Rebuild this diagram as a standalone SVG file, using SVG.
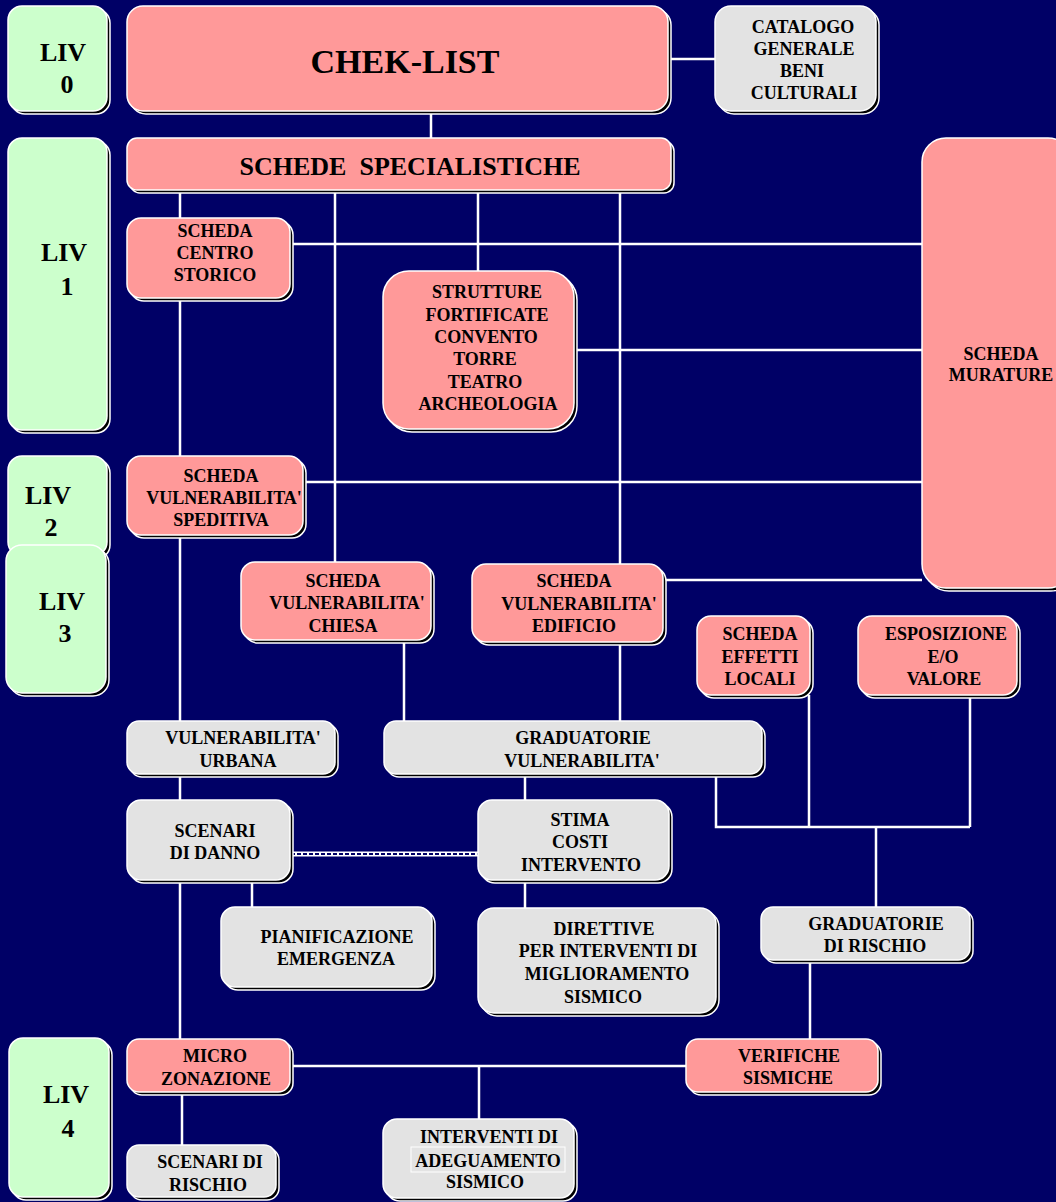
<svg xmlns="http://www.w3.org/2000/svg" width="1056" height="1202" viewBox="0 0 1056 1202">
<style>
.sh{fill:#000;stroke:#fff;stroke-width:1.5}
.pk{fill:#FF9999;stroke:#fff;stroke-width:1.5}
.gn{fill:#CCFFCC;stroke:#fff;stroke-width:1.5}
.gy{fill:#E3E3E3;stroke:#fff;stroke-width:1.5}
text{font-family:"Liberation Serif","Times New Roman",serif;font-weight:bold;font-size:18px;text-anchor:middle;fill:#000}
.lv{font-size:26px}
.ln{stroke:#fff;stroke-width:2.5;fill:none}
</style>
<rect x="0" y="0" width="1056" height="1202" fill="#000066"/>
<g id="connectors">
<path class="ln" d="M668 59H715 M431 111V138 M180 190V218 M180 298V456 M180 535V721 M335 190V562 M478 190V271 M620 190V564 M290 244H922 M574 350H922 M303 482H922 M663 580H922 M404 640V721 M620 642V721 M525 774V800 M716 774V827H970 M809 695V827 M970 695V827 M876 827V907 M180 774V800 M180 880V1039 M252 880V907 M525 880V908 M810 960V1039 M182 1092V1145 M290 1066H686 M479 1066V1119"/>
<line x1="291" y1="854" x2="478" y2="854" stroke="#fff" stroke-width="5"/>
<line x1="291" y1="854" x2="478" y2="854" stroke="#000066" stroke-width="2" stroke-dasharray="4 2"/>
</g>
<g id="liv0"><rect class="sh" x="11" y="9" width="99" height="105" rx="14"/><rect class="gn" x="8" y="6" width="99" height="105" rx="14"/><text class="lv" x="63" y="61">LIV</text><text class="lv" x="67" y="93">0</text></g>
<g id="checklist"><rect class="sh" x="130" y="9" width="541" height="105" rx="16"/><rect class="pk" x="127" y="6" width="541" height="105" rx="16"/><text x="405" y="73" style="font-size:34px">CHEK-LIST</text></g>
<g id="catalogo"><rect class="sh" x="718" y="9" width="161" height="105" rx="16"/><rect class="gy" x="715" y="6" width="161" height="105" rx="16"/><text x="803" y="33">CATALOGO</text><text x="804" y="55">GENERALE</text><text x="802" y="77">BENI</text><text x="804" y="99">CULTURALI</text></g>
<g id="liv1"><rect class="sh" x="11" y="141" width="99" height="292" rx="14"/><rect class="gn" x="8" y="138" width="99" height="292" rx="14"/><text class="lv" x="64" y="261">LIV</text><text class="lv" x="67" y="295">1</text></g>
<g id="schede"><rect class="sh" x="130" y="141" width="544" height="52" rx="10"/><rect class="pk" x="127" y="138" width="544" height="52" rx="10"/><text x="410" y="175" style="font-size:26px;white-space:pre">SCHEDE  SPECIALISTICHE</text></g>
<g id="centro"><rect class="sh" x="130" y="221" width="163" height="80" rx="14"/><rect class="pk" x="127" y="218" width="163" height="80" rx="14"/><text x="215" y="237">SCHEDA</text><text x="215" y="259">CENTRO</text><text x="215" y="281">STORICO</text></g>
<g id="strutture"><rect class="sh" x="386" y="274" width="191" height="158" rx="26"/><rect class="pk" x="383" y="271" width="191" height="158" rx="26"/><text x="487" y="298">STRUTTURE</text><text x="487" y="321">FORTIFICATE</text><text x="486" y="343">CONVENTO</text><text x="485" y="365">TORRE</text><text x="485" y="388">TEATRO</text><text x="488" y="410">ARCHEOLOGIA</text></g>
<g id="murature"><rect class="sh" x="925" y="141" width="150" height="450" rx="24"/><rect class="pk" x="922" y="138" width="150" height="450" rx="24"/><text x="1001" y="360">SCHEDA</text><text x="1001" y="381">MURATURE</text></g>
<g id="liv2"><rect class="sh" x="11" y="459" width="99" height="100" rx="14"/><rect class="gn" x="8" y="456" width="99" height="100" rx="14"/><text class="lv" x="48" y="504">LIV</text><text class="lv" x="51" y="536">2</text></g>
<g id="liv3"><rect class="sh" x="9" y="548" width="100" height="148" rx="16"/><rect class="gn" x="6" y="545" width="100" height="148" rx="16"/><text class="lv" x="62" y="610">LIV</text><text class="lv" x="65" y="642">3</text></g>
<g id="speditiva"><rect class="sh" x="130" y="459" width="176" height="79" rx="14"/><rect class="pk" x="127" y="456" width="176" height="79" rx="14"/><text x="221" y="482">SCHEDA</text><text x="224" y="504">VULNERABILITA'</text><text x="221" y="526">SPEDITIVA</text></g>
<g id="chiesa"><rect class="sh" x="244" y="565" width="190" height="78" rx="14"/><rect class="pk" x="241" y="562" width="190" height="78" rx="14"/><text x="343" y="587">SCHEDA</text><text x="347" y="609">VULNERABILITA'</text><text x="343" y="632">CHIESA</text></g>
<g id="edificio"><rect class="sh" x="475" y="567" width="191" height="78" rx="14"/><rect class="pk" x="472" y="564" width="191" height="78" rx="14"/><text x="574" y="587">SCHEDA</text><text x="579" y="610">VULNERABILITA'</text><text x="574" y="632">EDIFICIO</text></g>
<g id="effetti"><rect class="sh" x="700" y="619" width="113" height="79" rx="14"/><rect class="pk" x="697" y="616" width="113" height="79" rx="14"/><text x="760" y="640">SCHEDA</text><text x="760" y="663">EFFETTI</text><text x="760" y="685">LOCALI</text></g>
<g id="esposizione"><rect class="sh" x="861" y="619" width="159" height="79" rx="14"/><rect class="pk" x="858" y="616" width="159" height="79" rx="14"/><text x="946" y="640">ESPOSIZIONE</text><text x="943" y="663">E/O</text><text x="944" y="685">VALORE</text></g>
<g id="urbana"><rect class="sh" x="130" y="724" width="208" height="53" rx="12"/><rect class="gy" x="127" y="721" width="208" height="53" rx="12"/><text x="243" y="744">VULNERABILITA'</text><text x="238" y="767">URBANA</text></g>
<g id="gradvuln"><rect class="sh" x="387" y="724" width="378" height="53" rx="12"/><rect class="gy" x="384" y="721" width="378" height="53" rx="12"/><text x="583" y="744">GRADUATORIE</text><text x="582" y="767">VULNERABILITA'</text></g>
<g id="scenaridanno"><rect class="sh" x="130" y="803" width="163" height="80" rx="14"/><rect class="gy" x="127" y="800" width="163" height="80" rx="14"/><text x="215" y="837">SCENARI</text><text x="215" y="859">DI DANNO</text></g>
<g id="stima"><rect class="sh" x="481" y="803" width="191" height="80" rx="14"/><rect class="gy" x="478" y="800" width="191" height="80" rx="14"/><text x="580" y="826">STIMA</text><text x="580" y="848">COSTI</text><text x="581" y="871">INTERVENTO</text></g>
<g id="pianificazione"><rect class="sh" x="224" y="910" width="211" height="80" rx="14"/><rect class="gy" x="221" y="907" width="211" height="80" rx="14"/><text x="337" y="943">PIANIFICAZIONE</text><text x="336" y="965">EMERGENZA</text></g>
<g id="direttive"><rect class="sh" x="481" y="911" width="238" height="105" rx="16"/><rect class="gy" x="478" y="908" width="238" height="105" rx="16"/><text x="604" y="935">DIRETTIVE</text><text x="608" y="957">PER INTERVENTI DI</text><text x="607" y="980">MIGLIORAMENTO</text><text x="603" y="1003">SISMICO</text></g>
<g id="gradrischio"><rect class="sh" x="764" y="910" width="209" height="53" rx="12"/><rect class="gy" x="761" y="907" width="209" height="53" rx="12"/><text x="876" y="930">GRADUATORIE</text><text x="875" y="952">DI RISCHIO</text></g>
<g id="liv4"><rect class="sh" x="12" y="1041" width="100" height="159" rx="14"/><rect class="gn" x="9" y="1038" width="100" height="159" rx="14"/><text class="lv" x="66" y="1103">LIV</text><text class="lv" x="68" y="1137">4</text></g>
<g id="micro"><rect class="sh" x="130" y="1042" width="163" height="53" rx="12"/><rect class="pk" x="127" y="1039" width="163" height="53" rx="12"/><text x="215" y="1062">MICRO</text><text x="216" y="1085">ZONAZIONE</text></g>
<g id="verifiche"><rect class="sh" x="689" y="1042" width="192" height="53" rx="12"/><rect class="pk" x="686" y="1039" width="192" height="53" rx="12"/><text x="789" y="1062">VERIFICHE</text><text x="788" y="1084">SISMICHE</text></g>
<g id="scenaririschio"><rect class="sh" x="130" y="1148" width="149" height="52" rx="12"/><rect class="gy" x="127" y="1145" width="149" height="52" rx="12"/><text x="210" y="1168">SCENARI DI</text><text x="208" y="1191">RISCHIO</text></g>
<g id="interventi"><rect class="sh" x="386" y="1122" width="191" height="79" rx="14"/><rect class="gy" x="383" y="1119" width="191" height="79" rx="14"/><text x="489" y="1143">INTERVENTI DI</text><rect x="411" y="1147" width="154" height="25" fill="none" stroke="#fff" stroke-width="1"/><text x="488" y="1167">ADEGUAMENTO</text><text x="485" y="1188">SISMICO</text></g>
</svg>
